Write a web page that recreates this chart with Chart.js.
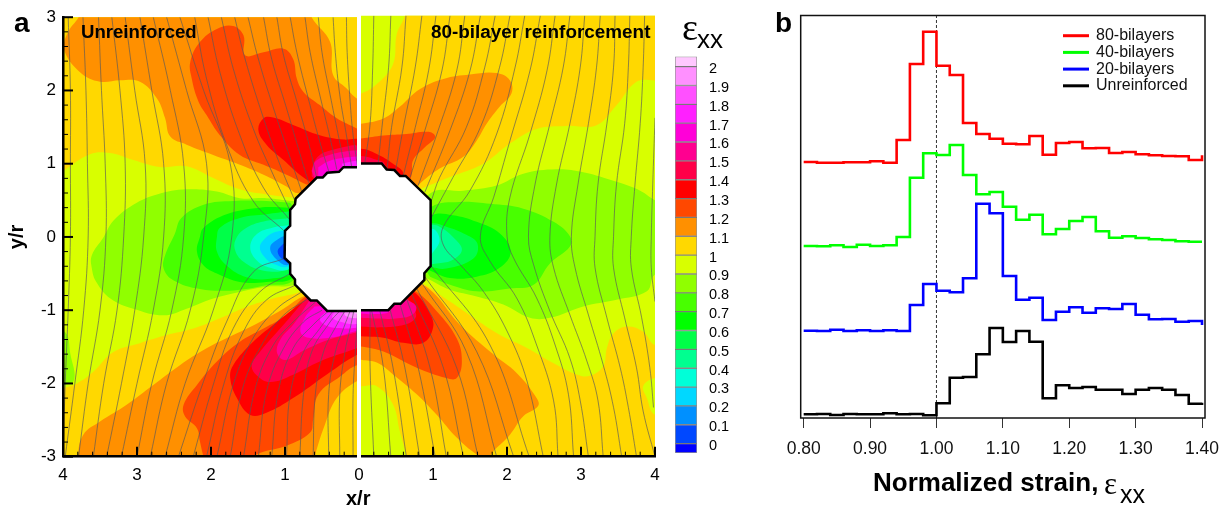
<!DOCTYPE html>
<html>

<head>
    <meta charset="utf-8">
    <title>Strain maps and histograms</title>
    <script src="https://cdn.jsdelivr.net/npm/chart.js@4.4.1/dist/chart.umd.min.js"></script>
    <style>
        body { margin: 0; background: #fff; }
        #page { position: relative; width: 1226px; height: 508px; overflow: hidden; font-family: "Liberation Sans", sans-serif; color: #000; }
        canvas { position: absolute; }
        .note { position: absolute; white-space: nowrap; line-height: 1.15; }
        .bold { font-weight: bold; }
        .eps { font-family: "Liberation Serif", serif; font-weight: normal; }
    </style>
</head>

<body>
    <div id="page">
        <canvas id="mapLeft" width="369" height="508" style="left:0;top:0"></canvas>
        <canvas id="mapRight" width="320" height="508" style="left:359px;top:0"></canvas>
        <canvas id="colorBar" width="100" height="508" style="left:660px;top:0"></canvas>
        <canvas id="hist" width="456" height="508" style="left:770px;top:0"></canvas>
        <div class="note bold" style="left:14px;top:7px;font-size:28px">a</div>
        <div class="note bold" style="left:775px;top:7px;font-size:28px">b</div>
        <div class="note bold" style="left:81px;top:21px;font-size:18.6px">Unreinforced</div>
        <div class="note bold" style="left:431px;top:21px;font-size:18.9px">80-bilayer reinforcement</div>
        <div class="note bold" style="left:346px;top:487px;font-size:20px">x/r</div>
        <div class="note" style="left:682px;top:6px;font-size:38px"><span class="eps">ε</span></div>
        <div class="note" style="left:697px;top:25px;font-size:26px">xx</div>
        <div class="note bold" style="left:873px;top:468px;font-size:26px">Normalized strain,</div>
        <div class="note" style="left:1104px;top:466px;font-size:31px"><span class="eps">ε</span></div>
        <div class="note" style="left:1120px;top:480px;font-size:25px">xx</div>
    </div>

    <script>

        // contour levels, index 0 is level 0, index 10 is level 1, index 20 is level 2
        const levelColors = ['#0000ff', '#0048ff', '#0090ff', '#00d8ff', '#00ffd8', '#00ff90', '#00ff48', '#00ff00', '#48ff00', '#90ff00', '#d8ff00',
            '#ffd800', '#ff9000', '#ff4800', '#ff0000', '#ff0048', '#ff0090', '#ff00d8', '#ff20ff', '#ff50ff', '#ff90ff', '#ffc8ff'];
        const barEdges = [-0.037, 0.0127, 0.1127, 0.2127, 0.3127, 0.4127, 0.5127, 0.6127, 0.7127, 0.8127, 0.9127, 1.0127, 1.1127, 1.2127, 1.3127, 1.4127, 1.5127, 1.6127, 1.7127, 1.8127, 1.9127, 2.0127, 2.0663];
        const barTicks = [0, 0.1, 0.2, 0.3, 0.4, 0.5, 0.6, 0.7, 0.8, 0.9, 1, 1.1, 1.2, 1.3, 1.4, 1.5, 1.6, 1.7, 1.8, 1.9, 2];

        const xTicksLeft = [-4, -3, -2, -1, 0];
        const xTicksRight = [1, 2, 3, 4];
        const yTicks = [-3, -2, -1, 0, 1, 2, 3];
        const xMinorLeft = [-3.8, -3.6, -3.4, -3.2, -2.8, -2.6, -2.4, -2.2, -1.8, -1.6, -1.4, -1.2, -0.8, -0.6, -0.4, -0.2];
        const xMinorRight = [0.2, 0.4, 0.6, 0.8, 1.2, 1.4, 1.6, 1.8, 2.2, 2.4, 2.6, 2.8, 3.2, 3.4, 3.6, 3.8];
        const yMinor = [-2.8, -2.6, -2.4, -2.2, -1.8, -1.6, -1.4, -1.2, -0.8, -0.6, -0.4, -0.2, 0.2, 0.4, 0.6, 0.8, 1.2, 1.4, 1.6, 1.8, 2.2, 2.4, 2.6, 2.8];

        // left half, unreinforced. regions in x/r, y/r
        const fullField = [[-6, -5], [-6, 5], [2, 5], [2, -5]];
        const lGoldTop = [[-4.3, .7], [-4, .9], [-3.635, 1.13], [-3.365, 1.145], [-3.05, 1.05], [-2.69, .955], [-2.33, .965], [-1.97, .805], [-1.61, .65], [-1.25, .58], [-.865, .535], [-.5, .5], [.3, .5], [.4, 3.4], [-4.4, 3.4]];
        const lOrangeTop = [[-3.6, 3.4], [-3.79, 3], [-3.93, 2.8], [-3.99, 2.57], [-3.77, 2.25], [-3.5, 2.12], [-3.23, 2.14], [-2.96, 2.12], [-2.73, 1.89], [-2.62, 1.62], [-2.55, 1.37], [-2.33, 1.26], [-1.97, 1.12], [-1.61, .986], [-1.29, .85], [-.98, .69], [-.84, .6], [-.5, .6], [.3, .6], [.3, 1.7], [-.03, 1.89], [-.17, 2.03], [-.35, 2.21], [-.39, 2.66], [-.64, 3], [-.8, 3.4]];
        const lDarkTop = [[-.71, .715], [-.98, .85], [-1.29, .986], [-1.61, 1.12], [-1.88, 1.39], [-2.06, 1.665], [-2.17, 1.85], [-2.26, 2.16], [-2.28, 2.39], [-2.15, 2.66], [-1.92, 2.84], [-1.7, 2.88], [-1.56, 2.75], [-1.54, 2.48], [-1.29, 2.52], [-1.02, 2.57], [-.89, 2.43], [-.84, 2.16], [-.75, 1.98], [-.53, 1.8], [-.3, 1.62], [-.03, 1.48], [.3, 1.3], [.3, .7], [-.4, .7]];
        const lRedTop = [[-.64, .74], [-.8, .85], [-1.02, 1.05], [-1.25, 1.26], [-1.36, 1.46], [-1.29, 1.62], [-1.16, 1.63], [-.89, 1.53], [-.53, 1.39], [-.21, 1.33], [-.03, 1.34], [.3, 1.3], [.3, .7], [-.4, .7]];
        const l15Top = [[-.64, .83], [-.62, .986], [-.53, 1.12], [-.35, 1.19], [-.17, 1.235], [-.03, 1.25], [.3, 1.2], [.3, .7], [-.5, .7]];
        const l16Top = [[-.64, .9], [-.58, 1.04], [-.4, 1.12], [-.17, 1.17], [-.03, 1.18], [.3, 1.15], [.3, .8], [-.6, .8]];
        const l17Top = [[-.55, .95], [-.42, 1.03], [-.21, 1.08], [-.03, 1.1], [.3, 1.1], [.3, .8], [-.55, .8]];
        const l18Top = [[-.23, 1.0], [-.1, 1.03], [-.03, 1.04], [.3, 1.04], [.3, .8], [-.23, .8]];
        const lGoldLow = [[-4.4, -2.1], [-4, -2.06], [-3.815, -2], [-3.59, -1.84], [-3.32, -1.57], [-2.96, -1.45], [-2.6, -1.34], [-2.24, -1.25], [-1.88, -1.11], [-1.52, -.955], [-1.16, -.84], [-.8, -.75], [-.5, -.6], [.3, -.6], [.3, -3.4], [-4.4, -3.4]];
        const lOrangeLow = [[-3.7, -3.4], [-3.79, -3], [-3.725, -2.7], [-3.5, -2.52], [-3.14, -2.29], [-2.78, -2.02], [-2.42, -1.75], [-2.06, -1.52], [-1.7, -1.34], [-1.34, -1.16], [-1.02, -.98], [-.77, -.82], [-.4, -.7], [.3, -.7], [.3, -1.85], [-.03, -1.97], [-.3, -2.2], [-.46, -2.56], [-.6, -3], [-.7, -3.4]];
        const lDarkLow = [[-2.0, -3.3], [-2.1, -3], [-2.15, -2.79], [-2.19, -2.61], [-2.35, -2.45], [-2.37, -2.29], [-2.19, -2.02], [-1.92, -1.7], [-1.61, -1.43], [-1.29, -1.25], [-.98, -1.07], [-.73, -.82], [-.4, -.7], [.3, -.8], [.3, -1.7], [-.03, -1.75], [-.25, -1.9], [-.55, -2.15], [-.62, -2.5], [-.66, -2.67], [-.98, -2.85], [-1.34, -2.95], [-1.6, -3.1]];
        const lRedLow = [[-.68, -.82], [-1.11, -1.16], [-1.43, -1.43], [-1.7, -1.75], [-1.74, -1.93], [-1.65, -2.2], [-1.47, -2.43], [-1.25, -2.4], [-.89, -2.2], [-.44, -1.88], [-.03, -1.61], [.3, -1.5], [.3, -.8], [-.4, -.8]];
        const l15Low = [[-.7, -.82], [-1.02, -1.2], [-1.34, -1.57], [-1.45, -1.75], [-1.38, -1.89], [-1.2, -1.98], [-.89, -1.88], [-.53, -1.7], [-.03, -1.52], [.3, -1.4], [.3, -.8]];
        const l16Low = [[-.66, -.85], [-.89, -1.2], [-1.05, -1.38], [-1.11, -1.57], [-1.0, -1.68], [-.75, -1.55], [-.4, -1.4], [-.03, -1.3], [.3, -1.2], [.3, -.8]];
        const l17Low = [[-.6, -.95], [-.73, -1.1], [-.79, -1.3], [-.66, -1.38], [-.35, -1.37], [-.03, -1.28], [.3, -1.2], [.3, -.9]];
        const l18Low = [[-.42, -1.0], [-.53, -1.12], [-.42, -1.22], [-.2, -1.25], [-.03, -1.24], [.3, -1.2], [.3, -.9]];
        const l19Low = [[-.32, -1.0], [-.36, -1.1], [-.2, -1.17], [-.03, -1.19], [.3, -1.15], [.3, -.9]];
        const l20Low = [[-.2, -1.0], [-.18, -1.08], [-.03, -1.11], [.3, -1.1], [.3, -.9]];
        const l21Low = [[-.1, -1], [-.03, -1.05], [.3, -1.05], [.3, -.9]];
        const l09Strip = [[-4.2, -1.3], [-3.97, -1.3], [-3.9, -1.6], [-3.85, -1.95], [-4, -2.03], [-4.2, -2.1]];
        const l09 = [[-.89, .49], [-1.25, .53], [-1.61, .53], [-1.92, .62], [-2.33, .65], [-2.73, .58], [-3.05, .44], [-3.32, .22], [-3.45, 0], [-3.61, -.25], [-3.61, -.43], [-3.55, -.615], [-3.36, -.84], [-3.05, -.98], [-2.64, -1.07], [-2.33, -.98], [-1.97, -.84], [-1.61, -.75], [-1.25, -.68], [-.89, -.66], [-.5, -.5], [-.5, .5]];
        const l08 = [[-.93, .466], [-1.25, .49], [-1.7, .49], [-2.1, .44], [-2.4, .26], [-2.49, .04], [-2.62, -.25], [-2.64, -.43], [-2.51, -.59], [-2.15, -.71], [-1.7, -.73], [-1.25, -.66], [-.89, -.59], [-.6, 0]];
        const l07 = [[-.93, .4], [-1.34, .4], [-1.79, .31], [-2.1, .127], [-2.15, 0], [-2.19, -.2], [-2.1, -.39], [-1.92, -.5], [-1.61, -.615], [-1.25, -.615], [-.89, -.55], [-.6, 0]];
        const l06 = [[-.94, .35], [-1.25, .31], [-1.61, .26], [-1.88, .127], [-1.92, 0], [-1.92, -.2], [-1.79, -.39], [-1.52, -.55], [-1.2, -.57], [-.89, -.48], [-.6, 0]];
        const l05 = [[-.94, .26], [-1.25, .22], [-1.52, .127], [-1.65, 0], [-1.68, -.16], [-1.56, -.34], [-1.29, -.46], [-.98, -.43], [-.6, 0]];
        const l04 = [[-.95, .16], [-1.16, .13], [-1.38, .04], [-1.47, -.14], [-1.38, -.32], [-1.2, -.42], [-.95, -.44], [-.7, -.15]];
        const l03 = [[-.95, .09], [-1.15, .06], [-1.28, -.03], [-1.34, -.14], [-1.28, -.27], [-1.15, -.37], [-.95, -.4], [-.7, -.15]];
        const l02 = [[-.95, .03], [-1.08, -.02], [-1.2, -.14], [-1.12, -.3], [-.95, -.38], [-.7, -.15]];
        const l01 = [[-.95, -.05], [-1.05, -.12], [-1.1, -.2], [-1.04, -.3], [-.9, -.36], [-.7, -.2]];
        const l00 = [[-.98, -.12], [-1.02, -.2], [-.98, -.28], [-.85, -.36], [-.7, -.2]];
        const holeLeft = [[.5, .953], [-.03, .953], [-.21, .953], [-.27, .89], [-.43, .876], [-.49, .81], [-.57, .81], [-.856, .523], [-.865, .446], [-.93, .37], [-.93, .152], [-1.0, .084], [-1.005, -.287], [-.93, -.36], [-.93, -.504], [-.865, -.58], [-.865, -.65], [-.653, -.866], [-.57, -.866], [-.43, -1.01], [-.03, -1.01], [.5, -1.01]];

        // right half, 80 bilayers
        const rGoldTop = [[.7, 3.4], [.62, 3], [.51, 2.75], [.46, 2.34], [.24, 2.07], [.03, 1.94], [-.3, 1.85], [-.3, .5], [.5, .5], [.85, .65], [1.23, .805], [1.68, .986], [2.04, 1.26], [2.4, 1.46], [2.81, 1.5], [3.21, 1.51], [3.48, 1.78], [3.75, 2.1], [4, 2.12], [4.4, 2.1], [4.4, 3.4]];
        const rOrangeTop = [[-.3, 1.5], [.03, 1.53], [.33, 1.6], [.55, 1.76], [.82, 2.0], [1.14, 2.14], [1.5, 2.2], [1.86, 2.22], [2.04, 2.12], [2.06, 1.94], [1.9, 1.76], [1.725, 1.53], [1.59, 1.3], [1.41, 1.08], [1.09, .92], [.85, .74], [.6, .5], [-.3, .5]];
        const rDarkTop = [[-.3, 1.3], [.03, 1.33], [.33, 1.37], [.64, 1.39], [.94, 1.42], [1.03, 1.35], [.89, 1.21], [.73, 1.03], [.71, .83], [.6, .6], [-.3, .6]];
        const rRedTop = [[-.3, 1.15], [.03, 1.19], [.24, 1.12], [.46, .986], [.6, .85], [.5, .6], [-.3, .6]];
        const r15Top = [[-.3, 1.1], [.03, 1.09], [.2, 1.05], [.35, .98], [.3, .8], [-.3, .8]];
        const rGoldLow = [[.6, -.5], [.89, -.66], [1.23, -.89], [1.59, -1.14], [1.9, -1.34], [2.27, -1.52], [2.58, -1.7], [2.94, -1.88], [3.12, -1.9], [3.3, -1.77], [3.35, -1.52], [3.44, -1.32], [3.62, -1.23], [3.84, -1.3], [4, -1.48], [4.4, -1.5], [4.4, -3.4], [.7, -3.4], [.64, -3], [.55, -2.65], [.46, -2.29], [.24, -2.04], [.03, -2.04], [-.3, -2], [-.3, -.5]];
        const rGreenPatch = [[4.4, -1.9], [4, -1.93], [3.84, -2.04], [3.89, -2.2], [4, -2.43], [4.4, -2.5]];
        const rOrangeLow = [[.6, -.6], [.94, -.71], [1.36, -1.2], [1.82, -1.61], [2.13, -1.86], [2.4, -2.2], [2.42, -2.31], [2.22, -2.45], [2.04, -2.7], [1.82, -2.92], [1.73, -3.02], [1.59, -2.97], [1.32, -2.74], [1.05, -2.43], [.78, -2.15], [.46, -1.88], [.24, -1.72], [.03, -1.68], [-.3, -1.6], [-.3, -.6]];
        const rDarkLow = [[.5, -.7], [.73, -.73], [1.05, -1.02], [1.32, -1.39], [1.39, -1.7], [1.32, -1.93], [1.18, -1.93], [.78, -1.79], [.33, -1.57], [.03, -1.5], [-.3, -1.45], [-.3, -.7]];
        const rRedLow = [[.5, -.7], [.73, -.75], [.96, -1.05], [1.0, -1.25], [.87, -1.45], [.6, -1.45], [.33, -1.38], [.03, -1.36], [-.3, -1.3], [-.3, -.7]];
        const r15Low = [[.5, -.75], [.65, -.84], [.77, -1.05], [.73, -1.15], [.55, -1.22], [.3, -1.24], [.03, -1.23], [-.3, -1.2], [-.3, -.8]];
        const r16Low = [[.4, -.8], [.6, -.85], [.77, -.95], [.72, -1.07], [.5, -1.12], [.2, -1.12], [.03, -1.11], [-.3, -1.1], [-.3, -.8]];
        const r17Low = [[-.3, -.9], [.3, -.95], [.4, -1.03], [.2, -1.06], [.03, -1.05], [-.3, -1.05]];
        const r09 = [[.6, 0], [.96, .58], [1.41, .62], [1.86, .69], [2.22, .85], [2.67, .91], [3.03, .87], [3.48, .74], [3.8, .62], [4, .49], [4.4, .3], [4.4, -.4], [4, -.52], [3.89, -.75], [3.48, -.865], [3.03, -.955], [2.58, -1.11], [2.31, -1.11], [1.95, -.93], [1.59, -.82], [1.23, -.73], [.91, -.57]];
        const r08 = [[.6, 0], [.98, .4], [1.36, .466], [1.77, .44], [2.22, .375], [2.63, .195], [2.85, 0], [2.85, -.14], [2.58, -.37], [2.36, -.66], [2.04, -.71], [1.59, -.75], [1.23, -.66], [.96, -.55]];
        const r07 = [[.6, 0], [.98, .285], [1.27, .285], [1.59, .195], [1.9, .04], [2.05, -.21], [1.9, -.43], [1.59, -.55], [1.23, -.57], [.94, -.46]];
        const r06 = [[.6, 0], [.96, .17], [1.18, .13], [1.45, .02], [1.6, -.1], [1.55, -.3], [1.18, -.44], [.96, -.42]];
        const r05 = [[.6, 0], [.96, .15], [1.09, .13], [1.3, -.04], [1.39, -.19], [1.25, -.33], [1.05, -.37], [.96, -.38]];
        const r04 = [[.7, -.1], [.98, .1], [1.09, -.05], [.98, -.25]];
        const holeRight = [[-.5, .99], [.02, .99], [.306, .99], [.374, .908], [.477, .9], [.554, .82], [.63, .82], [.968, .49], [.968, -.405], [.883, -.504], [.883, -.595], [.563, -.92], [.477, -.92], [.396, -1.006], [.02, -1.006], [-.5, -1.006]];

        const leftRegions = [[10, fullField], [11, lGoldTop], [12, lOrangeTop], [13, lDarkTop], [14, lRedTop], [15, l15Top], [16, l16Top], [17, l17Top], [18, l18Top],
            [11, lGoldLow], [12, lOrangeLow], [13, lDarkLow], [14, lRedLow], [15, l15Low], [16, l16Low], [17, l17Low], [18, l18Low], [19, l19Low], [20, l20Low], [21, l21Low],
            [9, l09Strip], [9, l09], [8, l08], [7, l07], [6, l06], [5, l05], [4, l04], [3, l03], [2, l02], [1, l01], [0, l00]];
        const rightRegions = [[10, fullField.map(p => [p[0] + 4, p[1]])], [11, rGoldTop], [12, rOrangeTop], [13, rDarkTop], [14, rRedTop], [15, r15Top],
            [11, rGoldLow], [10, rGreenPatch], [12, rOrangeLow], [13, rDarkLow], [14, rRedLow], [15, r15Low], [16, r16Low], [17, r17Low],
            [9, r09], [8, r08], [7, r07], [6, r06], [5, r05], [4, r04]];

        // streamlines
        const leftThrough = [
            [[-3.93, 3], [-3.9, 2], [-3.9, 1], [-3.9, 0], [-3.93, -1], [-3.97, -2], [-4, -3]],
            [[-3.73, 3], [-3.69, 2], [-3.67, 1], [-3.66, 0], [-3.72, -1], [-3.84, -2], [-3.97, -3]],
            [[-3.52, 3], [-3.48, 2], [-3.43, 1], [-3.42, 0], [-3.5, -1], [-3.66, -2], [-3.79, -3]],
            [[-3.34, 3], [-3.23, 2], [-3.16, 1], [-3.18, 0], [-3.27, -1], [-3.45, -2], [-3.59, -3]],
            [[-3.16, 3], [-3.03, 2], [-2.89, 1], [-2.91, 0], [-3.03, -1], [-3.21, -2], [-3.41, -3]],
            [[-2.96, 3], [-2.8, 2], [-2.64, 1], [-2.64, 0], [-2.78, -1], [-3.0, -2], [-3.21, -3]],
            [[-2.78, 3], [-2.55, 2], [-2.37, 1], [-2.37, 0], [-2.53, -1], [-2.8, -2], [-3.0, -3]],
            [[-2.6, 3], [-2.33, 2], [-2.06, 1], [-2.1, 0], [-2.28, -1], [-2.6, -2], [-2.82, -3]],
            [[-2.42, 3], [-2.1, 2], [-1.74, 1], [-1.72, 0], [-1.97, -1], [-2.35, -2], [-2.62, -3]]];
        const leftUpper = [
            [[-2.22, 3], [-2.06, 2.16], [-1.79, 1.26], [-1.43, .49], [-1.02, .09]],
            [[-2.04, 3], [-1.88, 2.25], [-1.61, 1.39], [-1.29, .67], [-.94, .24]],
            [[-1.86, 3], [-1.7, 2.3], [-1.43, 1.48], [-1.16, .85], [-.94, .375]],
            [[-1.68, 3], [-1.54, 2.43], [-1.29, 1.62], [-1.07, .99], [-.865, .49]],
            [[-1.5, 3], [-1.36, 2.43], [-1.14, 1.71], [-.93, 1.08], [-.775, .62]],
            [[-1.29, 3], [-1.18, 2.43], [-.98, 1.76], [-.82, 1.21], [-.68, .74]],
            [[-1.11, 3], [-1.02, 2.48], [-.84, 1.85], [-.685, 1.3], [-.57, .8]],
            [[-.93, 3], [-.84, 2.52], [-.685, 1.89], [-.53, 1.3], [-.41, .9]],
            [[-.73, 3], [-.66, 2.52], [-.53, 1.94], [-.39, 1.35], [-.3, .92]],
            [[-.55, 3], [-.5, 2.52], [-.39, 1.94], [-.28, 1.39], [-.19, .95]],
            [[-.35, 3], [-.32, 2.52], [-.26, 1.94], [-.17, 1.39], [-.1, .96]],
            [[-.17, 3], [-.16, 2.52], [-.12, 1.85], [-.08, 1.39], [-.02, .96]]];
        const leftLower = [
            [[-2.44, -3], [-2.1, -1.97], [-1.79, -1.16], [-1.43, -.48], [-1, -.29]],
            [[-2.24, -3], [-1.97, -2.02], [-1.7, -1.25], [-1.34, -.75], [-.93, -.5]],
            [[-2.06, -3], [-1.83, -2.02], [-1.56, -1.29], [-1.25, -.86], [-.865, -.66]],
            [[-1.92, -3], [-1.7, -2.02], [-1.43, -1.38], [-1.11, -.98], [-.775, -.75]],
            [[-1.74, -3], [-1.56, -2.02], [-1.29, -1.43], [-1.02, -1.07], [-.685, -.84]],
            [[-1.56, -3], [-1.4, -2.06], [-1.16, -1.48], [-.89, -1.16], [-.59, -.89]],
            [[-1.36, -3], [-1.25, -2.11], [-1.02, -1.52], [-.75, -1.16], [-.5, -1]],
            [[-1.18, -3], [-1.09, -2.11], [-.89, -1.52], [-.62, -1.2], [-.41, -1.01]],
            [[-.98, -3], [-.93, -2.15], [-.75, -1.57], [-.53, -1.25], [-.35, -1.01]],
            [[-.8, -3], [-.75, -2.15], [-.64, -1.57], [-.39, -1.16], [-.26, -1.01]],
            [[-.62, -3], [-.59, -2.15], [-.48, -1.57], [-.3, -1.2], [-.19, -1.01]],
            [[-.41, -3], [-.41, -2.15], [-.32, -1.57], [-.21, -1.25], [-.12, -1.01]],
            [[-.26, -3], [-.26, -2.15], [-.19, -1.57], [-.12, -1.25], [-.07, -1.01]],
            [[-.08, -3], [-.08, -2.15], [-.05, -1.57], [-.03, -1.25], [-.02, -1.01]]];
        const rightUpper = [
            [[.2, 3], [.185, 2.3], [.15, 1.53], [.08, 1]],
            [[.43, 3], [.4, 2.3], [.31, 1.48], [.26, 1]],
            [[.635, 3], [.58, 2.3], [.44, 1.48], [.38, .92]],
            [[.85, 3], [.76, 2.3], [.6, 1.48], [.49, .87]],
            [[1.04, 3], [.94, 2.25], [.76, 1.48], [.6, .83]],
            [[1.23, 3], [1.12, 2.25], [.89, 1.44], [.69, .8]],
            [[1.43, 3], [1.32, 2.25], [1.07, 1.44], [.8, .69]],
            [[1.64, 3], [1.5, 2.25], [1.23, 1.44], [.89, .6]],
            [[1.84, 3], [1.7, 2.3], [1.45, 1.48], [1.09, .8], [.98, .49]],
            [[2.04, 3], [1.9, 2.3], [1.64, 1.48], [1.27, .8], [.98, .26]]];
        const rightLower = [
            [[.15, -1.01], [.15, -1.79], [.2, -3]],
            [[.17, -1.01], [.33, -1.79], [.43, -3]],
            [[.28, -1.01], [.46, -1.79], [.64, -3]],
            [[.42, -1.0], [.62, -1.79], [.82, -3]],
            [[.55, -.91], [.8, -1.79], [1.03, -3]],
            [[.64, -.84], [.96, -1.79], [1.18, -3]],
            [[.71, -.78], [1.14, -1.79], [1.41, -3]],
            [[.78, -.71], [1.32, -1.79], [1.61, -3]],
            [[.85, -.64], [1.45, -1.57], [1.86, -3]],
            [[.89, -.55], [1.59, -1.57], [2.09, -3]],
            [[.98, -.41], [1.77, -1.48], [2.3, -3]]];
        const rightThrough = [
            [[2.24, 3], [2.11, 2.3], [1.86, 1.39], [1.5, .62], [1.14, .13], [1.14, -.12], [1.37, -.39], [1.68, -.75], [2.0, -1.29], [2.27, -1.97], [2.49, -3]],
            [[2.45, 3], [2.31, 2.25], [2.04, 1.3], [1.82, .53], [1.64, 0], [1.77, -.34], [2.13, -.84], [2.4, -1.48], [2.63, -2.24], [2.69, -3]],
            [[2.65, 3], [2.54, 2.25], [2.31, 1.39], [2.04, .53], [2.0, 0], [2.09, -.3], [2.4, -.84], [2.65, -1.48], [2.83, -2.15], [2.9, -3]],
            [[2.85, 3], [2.76, 2.3], [2.58, 1.53], [2.38, .71], [2.29, 0], [2.36, -.39], [2.58, -1.02], [2.85, -1.66], [2.99, -2.24], [3.1, -3]],
            [[3.05, 3], [2.99, 2.3], [2.85, 1.53], [2.67, .71], [2.58, 0], [2.63, -.43], [2.85, -1.07], [3.08, -1.7], [3.23, -2.24], [3.3, -3]],
            [[3.26, 3], [3.21, 2.3], [3.1, 1.53], [2.96, .71], [2.87, 0], [2.92, -.43], [3.1, -1.07], [3.3, -1.75], [3.44, -2.33], [3.55, -3]],
            [[3.46, 3], [3.44, 2.3], [3.35, 1.53], [3.23, .71], [3.19, 0], [3.19, -.43], [3.35, -1.11], [3.53, -1.79], [3.64, -2.33], [3.75, -3]],
            [[3.66, 3], [3.64, 2.3], [3.59, 1.53], [3.48, .71], [3.44, 0], [3.44, -.43], [3.59, -1.11], [3.75, -1.79], [3.84, -2.38], [4, -3]],
            [[3.86, 3], [3.84, 2.3], [3.8, 1.53], [3.73, .71], [3.68, 0], [3.68, -.43], [3.82, -1.11], [3.93, -1.79], [3.98, -2.33]],
            [[4.0, 1.61], [3.97, .71], [3.95, 0], [3.95, -.43], [4.0, -.89]]];

        // histogram bins, normalized strain (left edges, the last entry closes the plot)
        const strainEdges = [0.80, 0.82, 0.84, 0.86, 0.88, 0.90, 0.92, 0.94, 0.96, 0.98, 1.00, 1.02, 1.04, 1.06, 1.08, 1.10, 1.12, 1.14, 1.16, 1.18, 1.20, 1.22, 1.24, 1.26, 1.28, 1.30, 1.32, 1.34, 1.36, 1.38, 1.40];
        const bilayers80 = [256, 255.3, 255.3, 255.7, 255.7, 256.7, 255.3, 278, 354, 386.3, 352.3, 343, 295, 284, 279.3, 274.3, 273.7, 282, 263.3, 275, 276, 269.7, 270, 265, 266, 263.7, 262.7, 262, 261.7, 258, 262.7];
        const bilayers40 = [172, 171.7, 172.7, 171, 173.3, 172, 172.7, 181, 240.3, 264.7, 263, 273, 243, 223.7, 226, 211.3, 198.3, 203.3, 183.7, 189, 197, 201, 186.7, 180.3, 181.7, 180, 178.7, 178, 176.7, 176.3, 176.3];
        const bilayers20 = [87.3, 87, 88.3, 87, 87.7, 87, 87.7, 87, 113, 134, 127.3, 125.7, 139.7, 214.3, 204.7, 142, 118.3, 120.3, 98, 106.3, 110.7, 105.3, 109.7, 109, 114, 103.3, 98.7, 99, 96.3, 97, 93];
        const unreinforced = [3.7, 4, 3, 4, 3.7, 3.7, 4.7, 3.7, 4, 2.7, 14.7, 40.3, 41, 63.7, 90, 76, 87, 76.3, 19.7, 32.7, 30, 31, 28.3, 28.3, 24, 28.3, 30, 28.3, 23, 14.3, 15.3];
        const histTicks = [0.80, 0.90, 1.00, 1.10, 1.20, 1.30, 1.40];


        const FONT = '"Liberation Sans", sans-serif';

        function toPoints(list) {
            return list.map(p => ({ x: p[0], y: p[1] }));
        }

        function regionDataset(level, list) {
            return {
                data: toPoints(list), showLine: true, fill: 'shape', tension: 0.4,
                backgroundColor: levelColors[level], borderWidth: 0, pointRadius: 0
            };
        }

        function streamDataset(list) {
            return {
                data: toPoints(list), showLine: true, fill: false, tension: 0.4,
                borderColor: 'rgba(90,90,90,0.75)', borderWidth: 0.9, pointRadius: 0
            };
        }

        function holeDataset(list) {
            return {
                data: toPoints(list), showLine: true, fill: 'shape', tension: 0,
                backgroundColor: '#fff', borderColor: '#000', borderWidth: 2.5, pointRadius: 0
            };
        }

        // later entries on top
        function stacked(list) {
            list.forEach((d, i) => { d.order = -i; });
            return list;
        }

        // fixed axis box, keeps the plot area from shrinking for the end labels
        function pinHeight(scale, h) {
            scale.height = h;
            scale.paddingLeft = 0;
            scale.paddingRight = 0;
        }

        // tecplot style ticks point into the plot
        function inwardTicks(xMajor, xMinor, yMajor, yMinorList) {
            return {
                id: 'inwardTicks',
                afterDraw(chart) {
                    const ctx = chart.ctx, sx = chart.scales.x, sy = chart.scales.y, a = chart.chartArea;
                    const mark = (x1, y1, x2, y2, w) => {
                        ctx.lineWidth = w;
                        ctx.beginPath();
                        ctx.moveTo(x1, y1);
                        ctx.lineTo(x2, y2);
                        ctx.stroke();
                    };
                    ctx.save();
                    ctx.strokeStyle = '#000';
                    xMajor.forEach(v => { const p = sx.getPixelForValue(v); mark(p, a.bottom, p, a.bottom - 10, 2); });
                    xMinor.forEach(v => { const p = sx.getPixelForValue(v); mark(p, a.bottom, p, a.bottom - 5, 1); });
                    yMajor.forEach(v => { const p = sy.getPixelForValue(v); mark(a.left, p, a.left + 10, p, 2); });
                    yMinorList.forEach(v => { const p = sy.getPixelForValue(v); mark(a.left, p, a.left + 5, p, 1); });
                    // white slit between the two halves
                    const c = sx.getPixelForValue(0);
                    ctx.fillStyle = '#fff';
                    ctx.fillRect(c - 2, a.top - 2, 4, a.bottom - a.top + 4);
                    ctx.restore();
                }
            };
        }

        function mapOptions(xMin, xMax, ticks, showY, padRight) {
            return {
                responsive: false,
                animation: false,
                events: [],
                layout: { autoPadding: false, padding: { left: 0, right: padRight, top: 15.7, bottom: 0 } },
                plugins: { legend: { display: false }, tooltip: { enabled: false } },
                scales: {
                    x: {
                        type: 'linear', min: xMin, max: xMax,
                        afterBuildTicks: s => { s.ticks = ticks.map(v => ({ value: v })); },
                        afterFit: s => { pinHeight(s, 51.3); },
                        border: { color: '#000', width: 2.5, z: 1 },
                        grid: { drawOnChartArea: false, drawTicks: false },
                        ticks: { callback: v => Math.abs(v), color: '#000', font: { family: FONT, size: 17 }, padding: 8, maxRotation: 0, autoSkip: false }
                    },
                    y: {
                        type: 'linear', min: -3, max: 3, display: showY,
                        afterBuildTicks: s => { s.ticks = yTicks.map(v => ({ value: v })); },
                        afterFit: s => { s.width = showY ? 63 : 0; },
                        border: { color: '#000', width: 2.5, z: 1 },
                        grid: { drawOnChartArea: false, drawTicks: false },
                        title: { display: true, text: 'y/r', color: '#000', font: { family: FONT, size: 20, weight: 'bold' }, padding: { top: 5, bottom: 0 } },
                        ticks: { color: '#000', font: { family: FONT, size: 17 }, padding: 7, autoSkip: false }
                    }
                }
            };
        }

        new Chart(document.getElementById('mapLeft'), {
            type: 'scatter',
            data: {
                datasets: stacked([
                    ...leftRegions.map(r => regionDataset(r[0], r[1])),
                    ...leftThrough.map(streamDataset),
                    ...leftUpper.map(streamDataset),
                    ...leftLower.map(streamDataset),
                    holeDataset(holeLeft)
                ])
            },
            options: mapOptions(-4, 0, xTicksLeft, true, 10),
            plugins: [inwardTicks(xTicksLeft.slice(0, 4), xMinorLeft, yTicks, yMinor)]
        });

        new Chart(document.getElementById('mapRight'), {
            type: 'scatter',
            data: {
                datasets: stacked([
                    ...rightRegions.map(r => regionDataset(r[0], r[1])),
                    ...rightUpper.map(streamDataset),
                    ...rightLower.map(streamDataset),
                    ...rightThrough.map(streamDataset),
                    holeDataset(holeRight)
                ])
            },
            options: mapOptions(0, 4, xTicksRight, false, 24),
            plugins: [inwardTicks(xTicksRight, xMinorRight, [], [])]
        });

        new Chart(document.getElementById('colorBar'), {
            type: 'bar',
            data: {
                labels: [''],
                datasets: levelColors.map((c, i) => ({
                    data: [[barEdges[i], barEdges[i + 1]]],
                    backgroundColor: c, borderColor: 'rgba(60,60,60,0.55)', borderWidth: 1,
                    barPercentage: 1, categoryPercentage: 1, grouped: false, borderSkipped: false
                }))
            },
            options: {
                responsive: false,
                animation: false,
                events: [],
                layout: { autoPadding: false, padding: { left: 15, right: 0, top: 56.5, bottom: 55 } },
                plugins: { legend: { display: false }, tooltip: { enabled: false } },
                scales: {
                    x: { display: false },
                    y: {
                        position: 'right', min: barEdges[0], max: barEdges[22],
                        afterBuildTicks: s => { s.ticks = barTicks.map(v => ({ value: v })); },
                        afterFit: s => { s.width = 63; },
                        border: { display: false },
                        grid: { display: false, drawTicks: false },
                        ticks: { callback: v => String(v), color: '#000', font: { family: FONT, size: 14.5 }, padding: 12, autoSkip: false }
                    }
                }
            }
        });

        function histDataset(label, color, values) {
            return {
                label: label,
                data: strainEdges.map((x, i) => ({ x: x, y: values[i] })),
                showLine: true, stepped: true, fill: false,
                borderColor: color, borderWidth: 2.6, pointRadius: 0
            };
        }

        const framePlugin = {
            id: 'frame',
            afterDraw(chart) {
                const ctx = chart.ctx, a = chart.chartArea;
                ctx.save();
                ctx.strokeStyle = '#111';
                ctx.lineWidth = 1.5;
                ctx.strokeRect(a.left, a.top, a.right - a.left, a.bottom - a.top);
                // legend inside the plot
                ctx.font = '16px ' + FONT;
                ctx.textBaseline = 'middle';
                chart.data.datasets.slice(0, 4).forEach((d, i) => {
                    const y = a.top + 20.2 + i * 16.7;
                    ctx.strokeStyle = d.borderColor;
                    ctx.lineWidth = 3;
                    ctx.beginPath();
                    ctx.moveTo(a.right - 142, y);
                    ctx.lineTo(a.right - 116, y);
                    ctx.stroke();
                    ctx.fillStyle = '#111';
                    ctx.fillText(d.label, a.right - 109, y);
                });
                ctx.restore();
            }
        };

        new Chart(document.getElementById('hist'), {
            type: 'scatter',
            data: {
                datasets: [
                    histDataset('80-bilayers', '#ff0000', bilayers80),
                    histDataset('40-bilayers', '#00ff00', bilayers40),
                    histDataset('20-bilayers', '#0000ff', bilayers20),
                    histDataset('Unreinforced', '#000000', unreinforced),
                    {
                        data: [{ x: 1, y: 0 }, { x: 1, y: 402.5 }], showLine: true, fill: false, pointRadius: 0,
                        borderColor: '#000', borderWidth: 0.8, borderDash: [3, 2], order: 5
                    }
                ]
            },
            options: {
                responsive: false,
                animation: false,
                events: [],
                layout: { autoPadding: false, padding: { left: 30.7, right: 21, top: 15.5, bottom: 0 } },
                plugins: { legend: { display: false }, tooltip: { enabled: false } },
                scales: {
                    x: {
                        type: 'linear', min: 0.7955, max: 1.4045,
                        afterBuildTicks: s => { s.ticks = histTicks.map(v => ({ value: v })); },
                        afterFit: s => { pinHeight(s, 90); },
                        border: { display: false },
                        grid: { drawOnChartArea: false, tickLength: 10, tickColor: '#333', tickWidth: 1 },
                        ticks: { callback: v => v.toFixed(2), color: '#111', font: { family: FONT, size: 17.5 }, padding: 11, maxRotation: 0, autoSkip: false }
                    },
                    y: { type: 'linear', min: 0, max: 402.5, display: false }
                }
            },
            plugins: [framePlugin]
        });

    </script>
</body>

</html>
